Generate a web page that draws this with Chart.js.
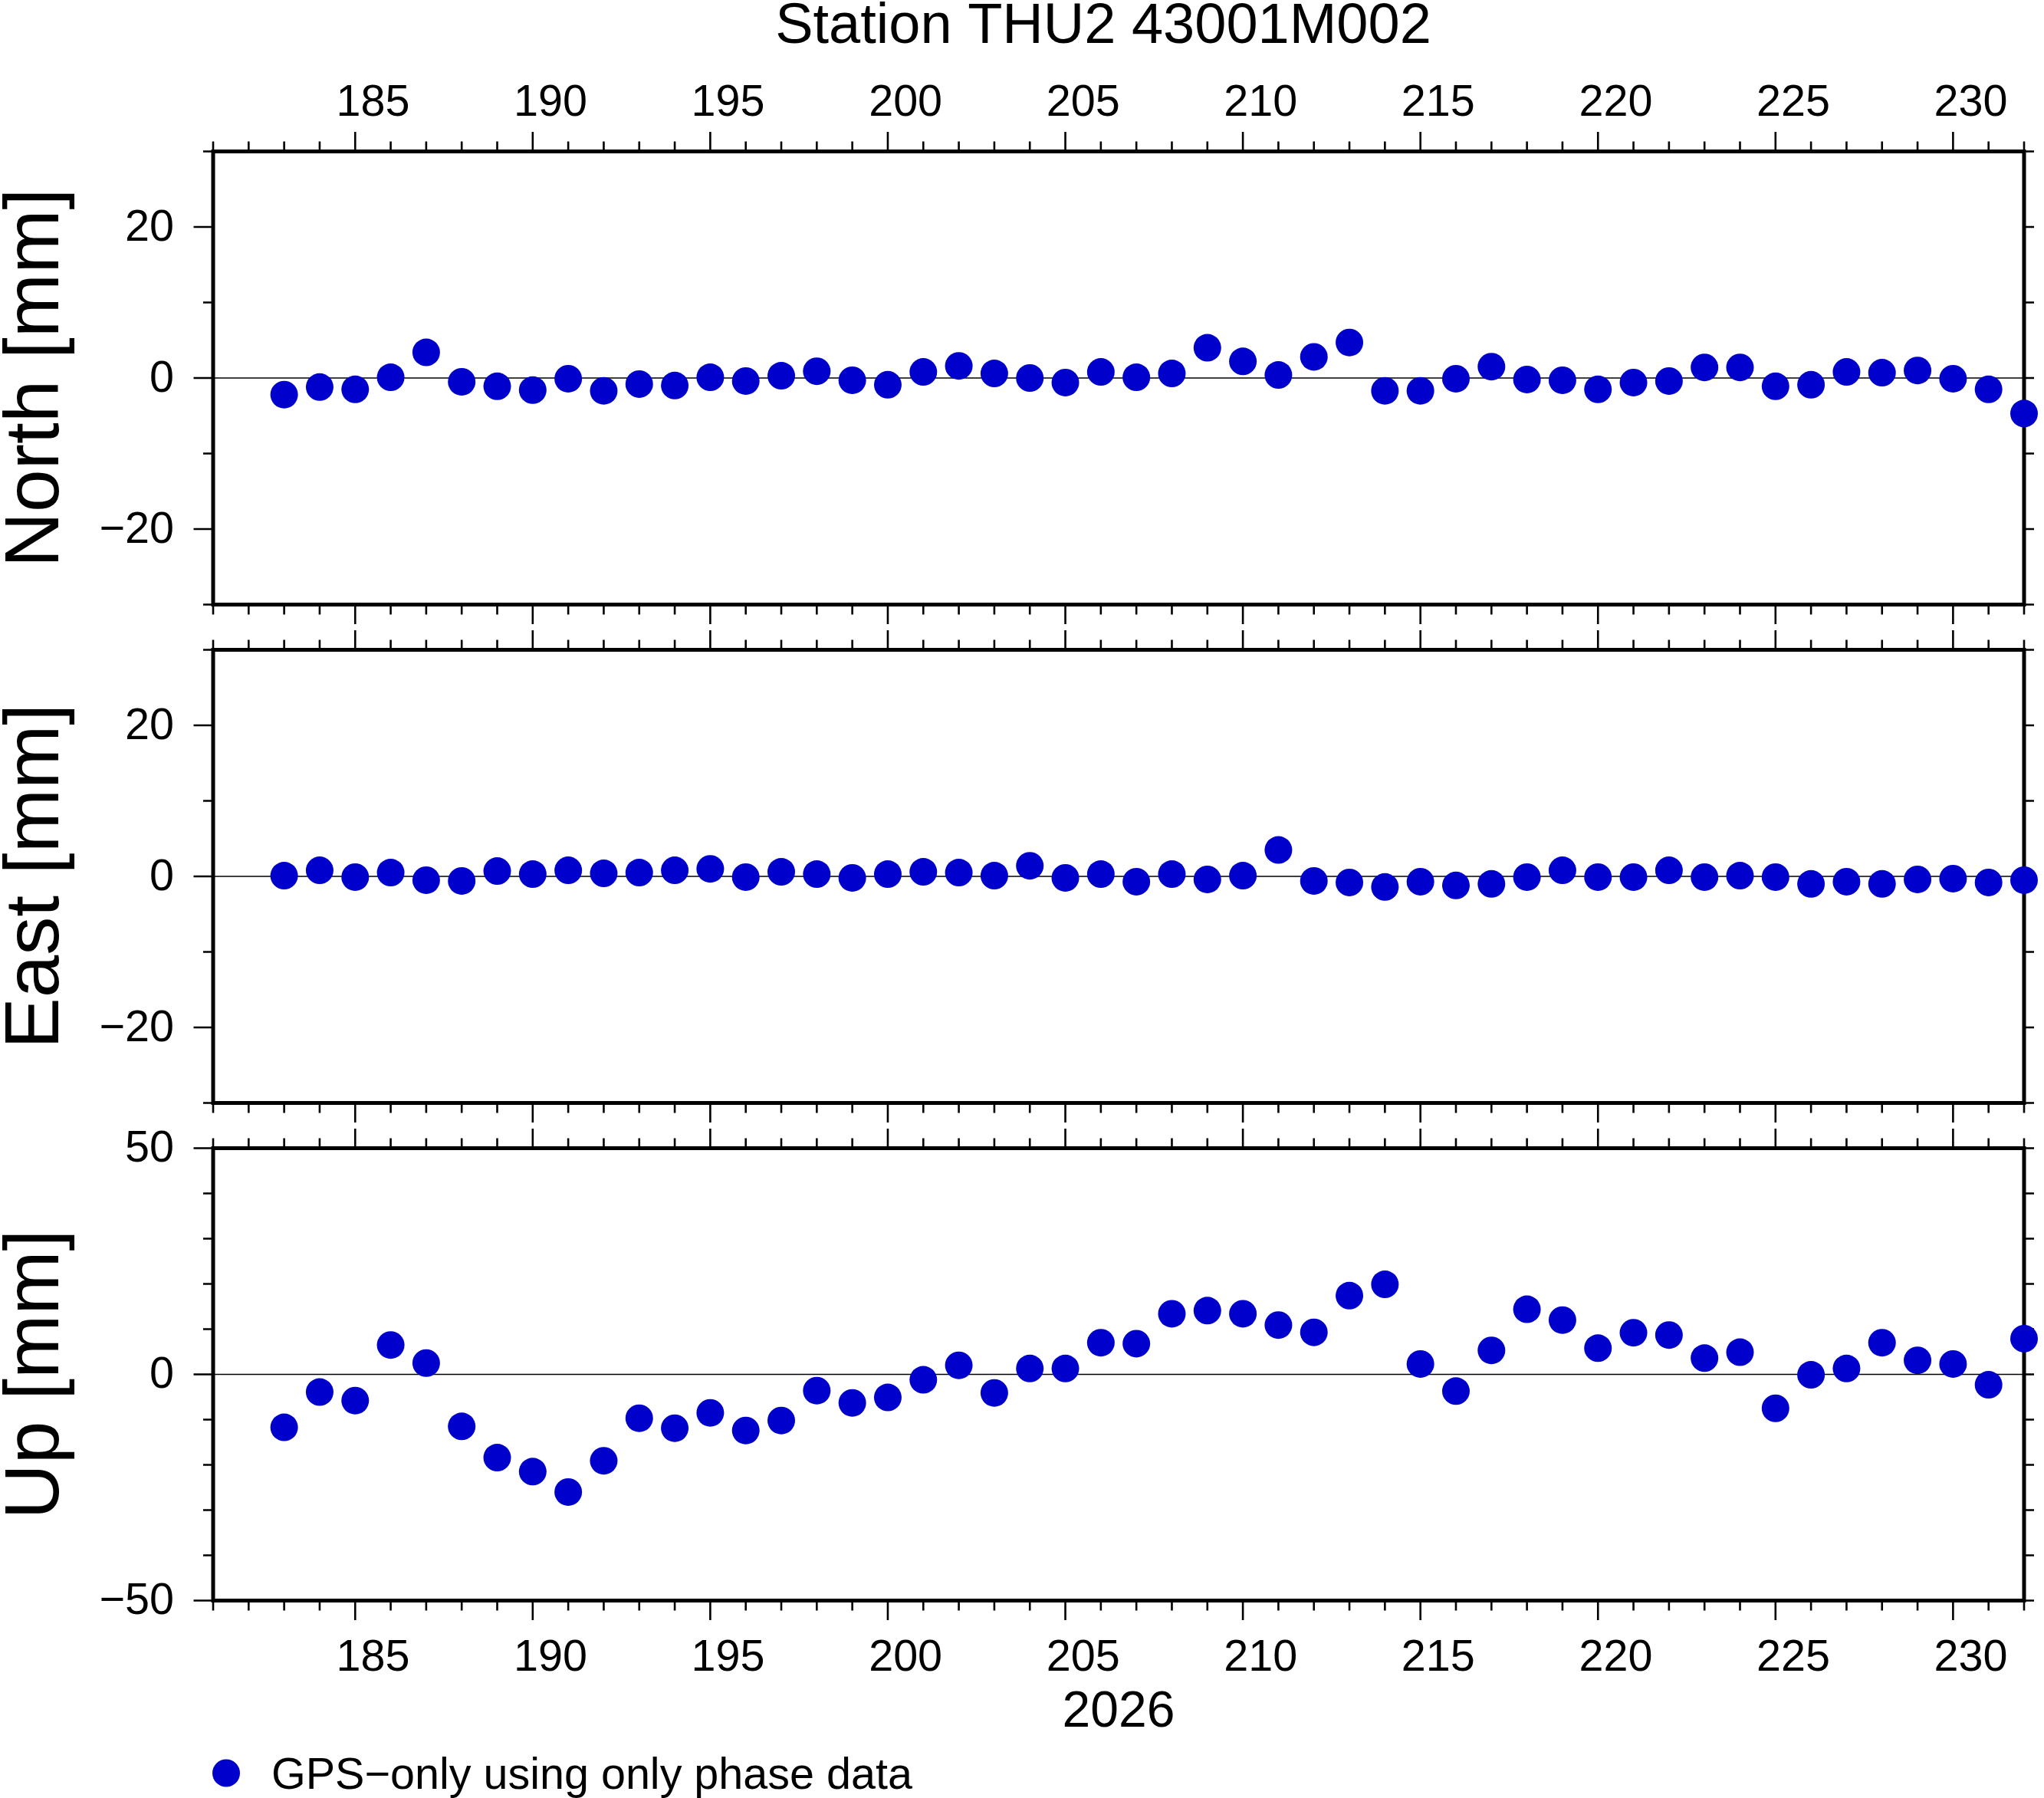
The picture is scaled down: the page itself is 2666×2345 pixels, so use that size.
<!DOCTYPE html>
<html>
<head>
<meta charset="utf-8">
<title>Station THU2 43001M002</title>
<script src="https://cdn.jsdelivr.net/npm/chart.js@4"></script>
<style>
  html, body { margin: 0; padding: 0; background: #ffffff; }
  #wrap { position: relative; width: 2666px; height: 2345px; background: #ffffff; }
  #wrap canvas { position: absolute; left: 0; top: 0; }
</style>
</head>
<body>
<div id="wrap">
  <canvas id="north" width="2666" height="2345"></canvas>
  <canvas id="east" width="2666" height="2345"></canvas>
  <canvas id="up" width="2666" height="2345"></canvas>
</div>
<script>
// day of year 2026
const days = [183, 184, 185, 186, 187, 188, 189, 190, 191, 192, 193, 194, 195, 196, 197, 198, 199,
  200, 201, 202, 203, 204, 205, 206, 207, 208, 209, 210, 211, 212, 213, 214, 215, 216, 217, 218,
  219, 220, 221, 222, 223, 224, 225, 226, 227, 228, 229, 230, 231, 232]

// residuals in mm
const north = [-2.2, -1.2, -1.5, 0.1, 3.4, -0.5, -1.1, -1.6, -0.1, -1.7, -0.8, -1.0, 0.1, -0.4, 0.3,
  0.9, -0.3, -0.9, 0.8, 1.6, 0.6, 0.0, -0.6, 0.8, 0.1, 0.6, 4.0, 2.2, 0.4, 2.8, 4.7, -1.7, -1.7,
  -0.1, 1.5, -0.2, -0.3, -1.5, -0.6, -0.4, 1.4, 1.4, -1.1, -0.9, 0.8, 0.7, 1.0, -0.1, -1.5, -4.7]
const east = [0.1, 0.8, -0.1, 0.5, -0.5, -0.6, 0.7, 0.3, 0.8, 0.4, 0.5, 0.8, 1.0, -0.1, 0.6, 0.3,
  -0.2, 0.3, 0.6, 0.5, 0.1, 1.4, -0.2, 0.3, -0.7, 0.3, -0.4, 0.1, 3.5, -0.6, -0.8, -1.4, -0.7,
  -1.2, -1.0, -0.1, 0.8, -0.1, -0.1, 0.8, -0.1, 0.1, -0.1, -1.0, -0.7, -1.0, -0.4, -0.3, -0.8, -0.5]
const up = [-11.7, -3.9, -5.8, 6.5, 2.5, -11.5, -18.4, -21.5, -26.0, -19.1, -9.7, -11.9, -8.5,
  -12.4, -10.2, -3.6, -6.3, -5.1, -1.2, 2.0, -4.1, 1.3, 1.3, 7.0, 6.8, 13.4, 14.1, 13.4, 10.9, 9.3,
  17.4, 19.9, 2.3, -3.7, 5.3, 14.4, 12.0, 5.8, 9.2, 8.7, 3.6, 4.9, -7.5, -0.1, 1.3, 7.0, 3.1, 2.3,
  -2.3, 7.9]

// tick labels
const xTickLabels = [185, 190, 195, 200, 205, 210, 215, 220, 225, 230]
const horizTickLabels = [20, 0, -20]
const upTickLabels = [50, 0, -50]

const titleText = "Station THU2 43001M002"
const yearText = "2026"
const legendText = "GPS\u2212only using only phase data"

const FONT = "'Liberation Sans', Arial, Helvetica, sans-serif"
const DOT = "rgb(0,0,204)"
const PAGE_W = 2666
const PAGE_H = 2345
const FRAME_L = 278
const FRAME_R = 2640

function fmt(v) {
  return v < 0 ? "\u2212" + Math.abs(v) : String(v)
}

// GMT-like frame, ticks and annotations drawn from the chart scales
const gmtFrame = {
  id: "gmtFrame",
  beforeDatasetsDraw(chart, args, opts) {
    const ctx = chart.ctx
    const xs = chart.scales.x
    const ys = chart.scales.y
    const { left, right, top, bottom } = chart.chartArea

    ctx.save()
    ctx.strokeStyle = "#000"
    ctx.lineCap = "butt"

    // zero line
    ctx.lineWidth = 1.3
    ctx.beginPath()
    ctx.moveTo(left, ys.getPixelForValue(0))
    ctx.lineTo(right, ys.getPixelForValue(0))
    ctx.stroke()

    // x ticks, one per day, longer every 5 days
    ctx.lineWidth = 2.6
    ctx.beginPath()
    for (let d = xs.min; d <= xs.max; d++) {
      const px = xs.getPixelForValue(d)
      const len = d % 5 === 0 ? 25.5 : 13
      ctx.moveTo(px, top)
      ctx.lineTo(px, top - len)
      ctx.moveTo(px, bottom)
      ctx.lineTo(px, bottom + len)
    }
    // y ticks every 10 mm
    for (let v = ys.min; v <= ys.max; v += 10) {
      const py = ys.getPixelForValue(v)
      const len = v % opts.yMajor === 0 ? 25.5 : 13
      ctx.moveTo(left, py)
      ctx.lineTo(left - len, py)
      ctx.moveTo(right, py)
      ctx.lineTo(right + 13, py)
    }
    ctx.stroke()

    // frame
    ctx.lineWidth = 5
    ctx.strokeRect(left, top, right - left, bottom - top)

    // y tick labels
    ctx.fillStyle = "#000"
    ctx.font = "57.5px " + FONT
    ctx.textAlign = "right"
    ctx.textBaseline = "middle"
    opts.yLabels.forEach(v => {
      ctx.fillText(fmt(v), left - 51, ys.getPixelForValue(v) + 2)
    })

    // x tick labels, centred on the day
    ctx.textAlign = "center"
    ctx.textBaseline = "alphabetic"
    if (opts.topLabels) {
      xTickLabels.forEach(d => ctx.fillText(String(d), xs.getPixelForValue(d + 0.5), top - 47))
    }
    if (opts.bottomLabels) {
      xTickLabels.forEach(d => ctx.fillText(String(d), xs.getPixelForValue(d + 0.5), bottom + 91))
    }

    // axis title
    ctx.font = "100px " + FONT
    ctx.save()
    ctx.translate(76, (top + bottom) / 2)
    ctx.rotate(-Math.PI / 2)
    ctx.textAlign = "center"
    ctx.fillText(opts.yTitle, 0, 0)
    ctx.restore()

    ctx.restore()
  },
  afterDraw(chart, args, opts) {
    const ctx = chart.ctx
    const { left, right, bottom } = chart.chartArea
    ctx.save()
    ctx.fillStyle = "#000"
    ctx.textBaseline = "alphabetic"
    if (opts.title) {
      ctx.font = "74px " + FONT
      ctx.textAlign = "center"
      ctx.fillText(titleText, (left + right) / 2 - 20, 56)
    }
    if (opts.footer) {
      ctx.font = "66px " + FONT
      ctx.textAlign = "center"
      ctx.fillText(yearText, (left + right) / 2, bottom + 164)

      ctx.fillStyle = DOT
      ctx.beginPath()
      ctx.arc(left + 17, bottom + 225, 18, 0, Math.PI * 2)
      ctx.fill()
      ctx.fillStyle = "#000"
      ctx.font = "57.5px " + FONT
      ctx.textAlign = "left"
      ctx.fillText(legendText, left + 76, bottom + 245)
    }
    ctx.restore()
  }
}

function makePanel(id, values, yMin, yMax, frameTop, frameBottom, frameOpts) {
  return new Chart(document.getElementById(id), {
    type: "scatter",
    data: {
      datasets: [{
        data: days.map((d, i) => ({ x: d, y: values[i] })),
        pointRadius: 18,
        pointHoverRadius: 18,
        pointBackgroundColor: DOT,
        pointBorderWidth: 0,
        clip: false
      }]
    },
    options: {
      responsive: false,
      animation: false,
      devicePixelRatio: 1,
      events: [],
      layout: {
        padding: { left: FRAME_L, right: PAGE_W - FRAME_R, top: frameTop, bottom: PAGE_H - frameBottom }
      },
      scales: {
        x: { type: "linear", min: 181, max: 232, display: false },
        y: { type: "linear", min: yMin, max: yMax, display: false }
      },
      plugins: {
        legend: { display: false },
        title: { display: false },
        tooltip: { enabled: false },
        gmtFrame: frameOpts
      }
    },
    plugins: [gmtFrame]
  })
}

makePanel("north", north, -30, 30, 197.5, 788.5, {
  yMajor: 20, yLabels: horizTickLabels, yTitle: "North [mm]", topLabels: true, bottomLabels: false, title: true
})
makePanel("east", east, -30, 30, 847.5, 1438.5, {
  yMajor: 20, yLabels: horizTickLabels, yTitle: "East [mm]", topLabels: false, bottomLabels: false
})
makePanel("up", up, -50, 50, 1497.5, 2087.5, {
  yMajor: 50, yLabels: upTickLabels, yTitle: "Up [mm]", topLabels: false, bottomLabels: true, footer: true
})
</script>
</body>
</html>
